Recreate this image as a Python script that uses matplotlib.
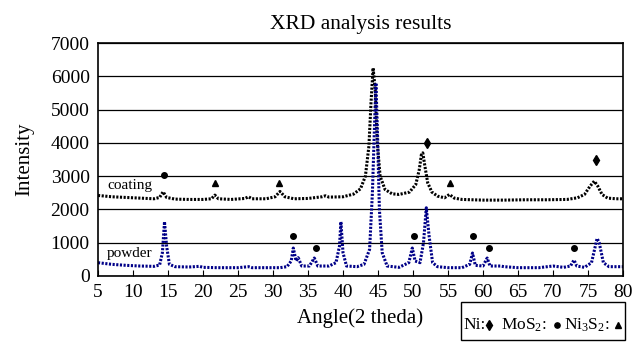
import matplotlib
matplotlib.use("Agg")
import matplotlib.pyplot as plt
from matplotlib.lines import Line2D
from matplotlib.patches import Rectangle

plt.rcParams["font.family"] = ["Liberation Serif", "DejaVu Serif"]
plt.rcParams["mathtext.fontset"] = "custom"
plt.rcParams["mathtext.rm"] = "Liberation Serif"
plt.rcParams["mathtext.it"] = "Liberation Serif:italic"

# ── Data ─────────────────────────────────────────────────
coat_angle = [5, 7, 9, 11, 13, 13.8, 14.3, 14.8, 16, 18, 20, 21.2, 21.7, 22.2,
              24, 26, 26.5, 27, 29, 30.3, 31, 31.7, 33, 35, 37, 37.5, 38, 40,
              41.5, 42.5, 43.2, 43.7, 44.0, 44.3, 44.6, 44.9, 45.3, 46, 47, 48,
              49.5, 50.4, 50.9, 51.2, 51.4, 51.7, 52.1, 52.7, 53.5, 54.5, 55.2,
              55.9, 57, 60, 63, 66, 69, 72, 73.5, 74.5, 75.3, 75.9, 76.4, 77,
              77.8, 79, 80]
coat_int = [2420, 2380, 2360, 2340, 2320, 2360, 2530, 2360, 2310, 2300, 2300,
            2320, 2430, 2320, 2300, 2330, 2380, 2320, 2320, 2380, 2540, 2380,
            2320, 2330, 2380, 2410, 2370, 2380, 2460, 2620, 3000, 3900, 5200,
            6250, 5600, 4000, 3000, 2600, 2470, 2450, 2520, 2750, 3200, 3650,
            3700, 3300, 2800, 2520, 2400, 2350, 2450, 2340, 2300, 2280, 2280,
            2290, 2290, 2300, 2350, 2450, 2700, 2850, 2700, 2450, 2340, 2320,
            2320]

pow_angle = [5, 7, 9, 11, 13, 13.8, 14.2, 14.5, 14.8, 15.2, 16, 18, 19.5, 20,
             22, 25, 26.5, 27, 29, 31, 32, 32.6, 32.9, 33.3, 33.6, 34.1, 35.2,
             35.9, 36.4, 38, 39, 39.5, 39.7, 40, 40.5, 42, 43, 43.8, 44.2, 44.5,
             44.7, 44.9, 45.2, 45.6, 46.3, 48, 49.4, 49.9, 50.3, 51, 51.5, 51.9,
             52.3, 52.8, 53.5, 55, 57, 58.1, 58.5, 58.9, 60, 60.6, 61, 62.5,
             63, 65, 68, 70, 71.5, 72.5, 73, 73.4, 74.5, 75.5, 76.3, 76.6, 77.2,
             78, 80]
pow_int = [400, 350, 320, 300, 290, 330, 700, 1630, 900, 350, 280, 270, 290,
           260, 250, 250, 280, 250, 250, 250, 280, 450, 840, 450, 550, 300, 300,
           540, 300, 300, 400, 900, 1630, 700, 300, 280, 350, 800, 2500, 4500,
           5800, 4500, 2000, 700, 300, 260, 400, 840, 450, 400, 1000, 2050,
           1200, 400, 280, 250, 250, 350, 690, 320, 300, 540, 300, 300, 280,
           250, 250, 300, 260, 300, 480, 300, 260, 400, 1130, 1000, 400, 280,
           280]

ni_angle, ni_int = [52.0, 76.2], [4000, 3480]
mos2_angle = [14.4, 32.9, 36.1, 50.2, 58.6, 60.8, 73.0]
mos2_int = [3020, 1210, 850, 1210, 1210, 850, 850]
ni3s2_angle, ni3s2_int = [21.7, 30.9, 55.3], [2800, 2800, 2800]

# ── Plot ─────────────────────────────────────────────────
fig = plt.figure(figsize=(6.35, 3.5), dpi=100)
ax = fig.add_axes([98 / 635, 1 - 276 / 350, 525 / 635, 233 / 350])

ax.plot(coat_angle, coat_int, color="black", linewidth=2.2,
        linestyle=(0, (0.7, 0.5)))
ax.plot(pow_angle, pow_int, color="#000088", linewidth=2.2,
        linestyle=(0, (0.7, 0.5)))

ax.plot(ni_angle, ni_int, "d", color="black", markersize=5)
ax.plot(mos2_angle, mos2_int, "o", color="black", markersize=4)
ax.plot(ni3s2_angle, ni3s2_int, "^", color="black", markersize=4.5)

ax.text(6.3, 2730, "coating", fontsize=11, va="center")
ax.text(6.3, 690, "powder", fontsize=11, va="center")

ax.set_xlim(5, 80)
ax.set_ylim(0, 7000)
ax.set_xticks(range(5, 81, 5))
ax.set_yticks(range(0, 7001, 1000))
ax.grid(axis="y", color="black", linewidth=0.9)
ax.set_axisbelow(True)
ax.tick_params(axis="x", direction="in", length=4, labelsize=14, pad=6)
ax.tick_params(axis="y", length=0, labelsize=14, pad=6)
for s in ax.spines.values():
    s.set_linewidth(1.2)

ax.set_title("XRD analysis results", fontsize=15.5, pad=10)
ax.set_xlabel("Angle(2 theda)", fontsize=15, labelpad=5)
ax.set_ylabel("Intensity", fontsize=15, labelpad=12)

# legend box of the symbols
fig.add_artist(Rectangle((461 / 635, 1 - 340 / 350), 164 / 635, 38 / 350,
                         transform=fig.transFigure, fill=False,
                         edgecolor="black", linewidth=1))
ly = 1 - 325 / 350
fig.text(463 / 635, ly, "Ni:", fontsize=12.5, va="center")
fig.text(501 / 635, ly, "MoS$_2$:", fontsize=12.5, va="center")
fig.text(564 / 635, ly, "Ni$_3$S$_2$:", fontsize=12.5, va="center")
for mx, mk, ms in [(489, "d", 5), (557, "o", 3.8), (618, "^", 4.5)]:
    fig.add_artist(Line2D([mx / 635], [ly], marker=mk, markersize=ms,
                          color="black", transform=fig.transFigure))

plt.savefig("out.png", dpi=100)
